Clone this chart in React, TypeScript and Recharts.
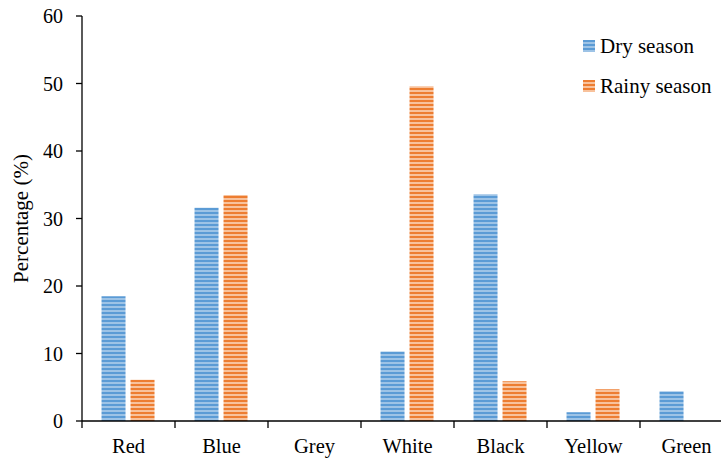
import React from "react";
import { BarChart, Bar, XAxis, YAxis, Legend } from "recharts";

const colours = ["Red", "Blue", "Grey", "White", "Black", "Yellow", "Green"];
const drySeason = [18.5, 31.6, 0, 10.3, 33.6, 1.3, 4.4];
const rainySeason = [6.1, 33.5, 0, 49.6, 5.9, 4.7, 0];
const yTicks = [0, 10, 20, 30, 40, 50, 60];

const data = colours.map((name, i) => ({
  name,
  dry: drySeason[i],
  rainy: rainySeason[i],
}));

const FONT = "'Liberation Serif', 'Times New Roman', serif";

// category label plus a tick mark at the left edge of each band
function CategoryTick(props: any) {
  const { x, y, payload, index, visibleTicksCount } = props;
  const half = payload.offset || 0;
  const last = index === visibleTicksCount - 1;
  return (
    <g>
      <line x1={x - half} x2={x - half} y1={y - 8} y2={y - 1} stroke="#000" strokeWidth={1.3} />
      {last && (
        <line x1={x + half} x2={x + half} y1={y - 8} y2={y - 1} stroke="#000" strokeWidth={1.3} />
      )}
      <text x={x} y={y + 24} textAnchor="middle" fontFamily={FONT} fontSize={20.5} fill="#000">
        {payload.value}
      </text>
    </g>
  );
}

function SeasonLegend() {
  const items = [
    { label: "Dry season", colour: "#5B9BD5", light: "#9DC3E6" },
    { label: "Rainy season", colour: "#ED7D31", light: "#F8C29C" },
  ];
  return (
    <div style={{ fontFamily: FONT, fontSize: 21, color: "#000" }}>
      {items.map((it) => (
        <div key={it.label} style={{ display: "flex", alignItems: "center", height: 40 }}>
          <span
            style={{
              display: "inline-block",
              width: 12,
              height: 12,
              marginRight: 5,
              background: `repeating-linear-gradient(to bottom, ${it.colour} 0 2px, ${it.light} 2px 4px)`,
            }}
          />
          {it.label}
        </div>
      ))}
    </div>
  );
}

export default function App() {
  // the original figure is cropped on the right, so the plot runs past the frame
  return (
    <div
      style={{
        position: "absolute",
        left: 0,
        top: 0,
        width: 721,
        height: 460,
        overflow: "hidden",
        background: "#fff",
      }}
    >
      <BarChart
        width={735}
        height={460}
        data={data}
        margin={{ top: 16, right: 2, left: 0, bottom: 9 }}
        barCategoryGap="21%"
        barGap={5}
      >
        <defs>
          <pattern id="dryStripes" width="6" height="4" patternUnits="userSpaceOnUse">
            <rect width="6" height="4" fill="#9DC3E6" />
            <rect width="6" height="2" fill="#5B9BD5" />
          </pattern>
          <pattern id="rainyStripes" width="6" height="4" patternUnits="userSpaceOnUse">
            <rect width="6" height="4" fill="#F8C29C" />
            <rect width="6" height="2" fill="#ED7D31" />
          </pattern>
        </defs>
        <XAxis
          dataKey="name"
          height={30}
          axisLine={{ stroke: "#000", strokeWidth: 1.3 }}
          tickLine={false}
          tick={<CategoryTick />}
          interval={0}
        />
        <YAxis
          width={82}
          domain={[0, 60]}
          ticks={yTicks}
          interval={0}
          axisLine={{ stroke: "#000", strokeWidth: 1.3 }}
          tickLine={{ stroke: "#000", strokeWidth: 1.3 }}
          tickSize={6}
          tickMargin={13}
          tick={{ fill: "#000", fontFamily: FONT, fontSize: 20 }}
          label={{
            value: "Percentage (%)",
            angle: -90,
            position: "insideLeft",
            dx: 16,
            style: { textAnchor: "middle", fontFamily: FONT, fontSize: 21, fill: "#000" },
          }}
        />
        <Legend
          layout="horizontal"
          verticalAlign="middle"
          align="center"
          content={<SeasonLegend />}
          wrapperStyle={{ left: 583, top: 26, width: 150, height: 80 }}
        />
        <Bar dataKey="dry" name="Dry season" fill="url(#dryStripes)" isAnimationActive={false} />
        <Bar dataKey="rainy" name="Rainy season" fill="url(#rainyStripes)" isAnimationActive={false} />
      </BarChart>
    </div>
  );
}
